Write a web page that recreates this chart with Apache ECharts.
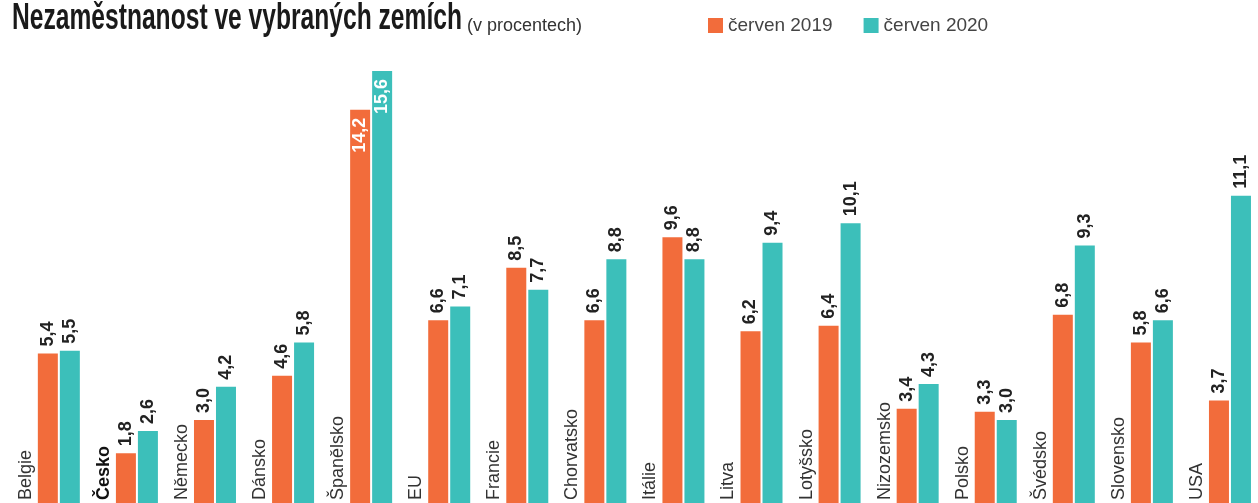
<!DOCTYPE html>
<html lang="cs">
<head>
<meta charset="utf-8">
<title>Nezaměstnanost ve vybraných zemích</title>
<script src="https://cdn.jsdelivr.net/npm/echarts@6/dist/echarts.min.js"></script>
<style>
    html, body { margin: 0; padding: 0; background: #fff; }
    #echart-unemployment { width: 1258px; height: 503px; }
</style>
</head>
<body>
<div id="echart-unemployment"></div>
<script>
// data
var categories = ['Belgie', 'Česko', 'Německo', 'Dánsko', 'Španělsko', 'EU', 'Francie', 'Chorvatsko',
    'Itálie', 'Litva', 'Lotyšsko', 'Nizozemsko', 'Polsko', 'Švédsko', 'Slovensko', 'USA'];
var june2019 = [5.4, 1.8, 3.0, 4.6, 14.2, 6.6, 8.5, 6.6, 9.6, 6.2, 6.4, 3.4, 3.3, 6.8, 5.8, 3.7];
var june2020 = [5.5, 2.6, 4.2, 5.8, 15.6, 7.1, 7.7, 8.8, 8.8, 9.4, 10.1, 4.3, 3.0, 9.3, 6.6, 11.1];
var seriesNames = ['červen 2019', 'červen 2020'];
var titleText = 'Nezaměstnanost ve vybraných zemích';
var unitText = '(v procentech)';

// Unemployment bars
document.addEventListener('DOMContentLoaded', function() {
    "use strict";
    var chart = getChart("echart-unemployment");
    var option = {};

    // the headline font is a condensed one, squeeze a normal bold face to the same width
    var titleFont = 'bold 36px "Liberation Sans", Arial, sans-serif';
    var ctx = document.createElement('canvas').getContext('2d');
    ctx.font = titleFont;
    var titleScale = 450 / ctx.measureText(titleText).width;

    var valueLabel = {
        show: true,
        position: 'top',
        rotate: 90,
        align: 'left',
        verticalAlign: 'middle',
        distance: 7,
        color: '#222',
        fontFamily: 'Arial, sans-serif',
        fontSize: 18,
        fontWeight: 'bold',
        formatter: function(p) {
            return p.value.toFixed(1).replace('.', ',');
        }
    };

    // tall bars get their number inside, in white
    function barData(values) {
        return values.map(function(v) {
            if (v > 12) {
                return {value: v, label: {position: 'insideTop', align: 'right', distance: 8, color: '#fff'}};
            }
            return v;
        });
    }

    option = {
        animation: false,
        graphic: [
            {
                type: 'text',
                x: 12,
                y: 19,
                scaleX: titleScale,
                style: {
                    text: titleText,
                    font: titleFont,
                    fill: '#1a1a1a',
                    verticalAlign: 'middle'
                }
            },
            {
                type: 'text',
                x: 467,
                y: 26,
                style: {
                    text: unitText,
                    font: '18px Arial, sans-serif',
                    fill: '#333',
                    verticalAlign: 'middle'
                }
            }
        ],
        legend: {
            data: seriesNames,
            left: 703,
            top: 11,
            itemWidth: 15,
            itemHeight: 15,
            itemGap: 31,
            icon: 'rect',
            textStyle: {
                fontFamily: 'Arial, sans-serif',
                fontSize: 19,
                color: '#444'
            }
        },
        grid: {
            left: 8.8,
            right: -5.2,
            top: 60,
            bottom: -2,
            containLabel: false
        },
        xAxis: {
            type: 'category',
            data: categories,
            axisLine: {show: false},
            axisTick: {show: false},
            axisLabel: {show: false}
        },
        yAxis: {
            type: 'value',
            min: 0,
            max: 16,
            show: false,
            splitLine: {show: false}
        },
        series: [
            {
                // carries the country names, drawn next to each pair
                name: 'země',
                type: 'bar',
                barWidth: 20,
                barGap: '10%',
                itemStyle: {color: 'rgba(0,0,0,0)'},
                data: categories.map(function(c) {
                    return c === 'Česko' ? {value: 0, label: {fontWeight: 'bold', color: '#111'}} : 0;
                }),
                label: {
                    show: true,
                    position: 'insideBottom',
                    rotate: 90,
                    align: 'left',
                    verticalAlign: 'middle',
                    distance: 3,
                    color: '#333',
                    fontFamily: 'Arial, sans-serif',
                    fontSize: 18,
                    formatter: function(p) { return p.name; }
                }
            },
            {
                name: seriesNames[0],
                type: 'bar',
                barWidth: 20,
                barGap: '10%',
                color: '#f26c3b',
                data: barData(june2019),
                label: valueLabel
            },
            {
                name: seriesNames[1],
                type: 'bar',
                barWidth: 20,
                barGap: '10%',
                color: '#3cbfba',
                data: barData(june2020),
                label: valueLabel
            }
        ]
    };
    if (option && typeof option === "object") {
        chart.setOption(option, true);
    }
    window.addEventListener('resize', function() {
        chart.resize();
    });
});

function getChart(id) {
    var dom = document.getElementById(id);
    return echarts.init(dom);
}
</script>
</body>
</html>
